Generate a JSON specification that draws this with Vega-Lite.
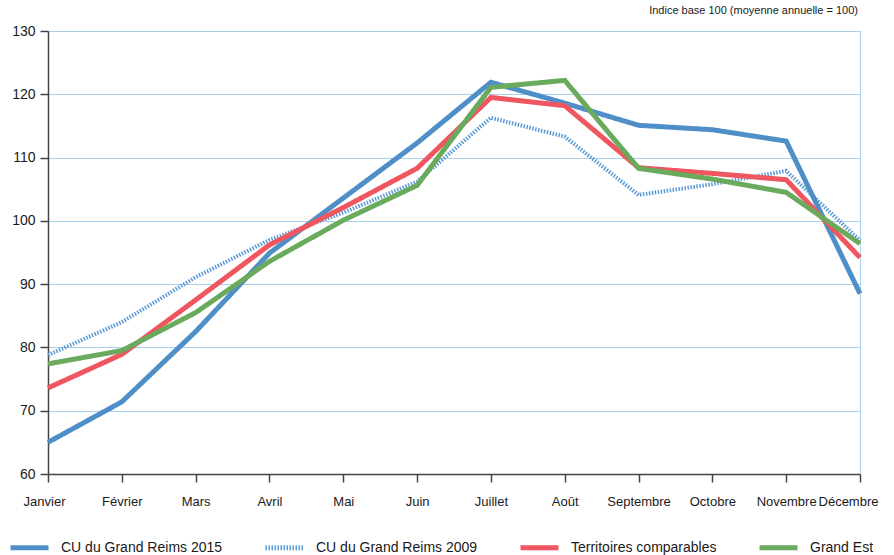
{
  "$schema": "https://vega.github.io/schema/vega-lite/v6.json",
  "autosize": {"type": "none"},
  "width": 812,
  "height": 443,
  "padding": {"left": 48, "top": 31, "right": 34, "bottom": 81},
  "background": "white",
  "title": {
    "text": "Indice base 100 (moyenne annuelle = 100)",
    "anchor": "end",
    "frame": "group",
    "fontSize": 11,
    "fontWeight": "normal",
    "font": "Liberation Sans",
    "color": "#1a1a1a",
    "offset": 8,
    "dx": -2
  },
  "config": {
    "view": {"stroke": "#a8cfec", "strokeWidth": 1},
    "font": "Liberation Sans"
  },
  "datasets": {
    "rows": [
      {"mois": "Janvier", "serie": "CU du Grand Reims 2015", "v": 65.0},
      {"mois": "Février", "serie": "CU du Grand Reims 2015", "v": 71.4},
      {"mois": "Mars", "serie": "CU du Grand Reims 2015", "v": 82.5},
      {"mois": "Avril", "serie": "CU du Grand Reims 2015", "v": 94.9},
      {"mois": "Mai", "serie": "CU du Grand Reims 2015", "v": 103.6},
      {"mois": "Juin", "serie": "CU du Grand Reims 2015", "v": 112.3},
      {"mois": "Juillet", "serie": "CU du Grand Reims 2015", "v": 121.9},
      {"mois": "Août", "serie": "CU du Grand Reims 2015", "v": 118.6},
      {"mois": "Septembre", "serie": "CU du Grand Reims 2015", "v": 115.1},
      {"mois": "Octobre", "serie": "CU du Grand Reims 2015", "v": 114.4},
      {"mois": "Novembre", "serie": "CU du Grand Reims 2015", "v": 112.6},
      {"mois": "Décembre", "serie": "CU du Grand Reims 2015", "v": 88.5},
      {"mois": "Janvier", "serie": "CU du Grand Reims 2009", "v": 78.8},
      {"mois": "Février", "serie": "CU du Grand Reims 2009", "v": 84.0},
      {"mois": "Mars", "serie": "CU du Grand Reims 2009", "v": 91.1},
      {"mois": "Avril", "serie": "CU du Grand Reims 2009", "v": 97.0},
      {"mois": "Mai", "serie": "CU du Grand Reims 2009", "v": 101.3},
      {"mois": "Juin", "serie": "CU du Grand Reims 2009", "v": 106.2},
      {"mois": "Juillet", "serie": "CU du Grand Reims 2009", "v": 116.3},
      {"mois": "Août", "serie": "CU du Grand Reims 2009", "v": 113.3},
      {"mois": "Septembre", "serie": "CU du Grand Reims 2009", "v": 104.1},
      {"mois": "Octobre", "serie": "CU du Grand Reims 2009", "v": 105.8},
      {"mois": "Novembre", "serie": "CU du Grand Reims 2009", "v": 107.9},
      {"mois": "Décembre", "serie": "CU du Grand Reims 2009", "v": 96.9},
      {"mois": "Janvier", "serie": "Territoires comparables", "v": 73.6},
      {"mois": "Février", "serie": "Territoires comparables", "v": 78.9},
      {"mois": "Mars", "serie": "Territoires comparables", "v": 87.5},
      {"mois": "Avril", "serie": "Territoires comparables", "v": 96.2},
      {"mois": "Mai", "serie": "Territoires comparables", "v": 102.1},
      {"mois": "Juin", "serie": "Territoires comparables", "v": 108.3},
      {"mois": "Juillet", "serie": "Territoires comparables", "v": 119.5},
      {"mois": "Août", "serie": "Territoires comparables", "v": 118.2},
      {"mois": "Septembre", "serie": "Territoires comparables", "v": 108.4},
      {"mois": "Octobre", "serie": "Territoires comparables", "v": 107.5},
      {"mois": "Novembre", "serie": "Territoires comparables", "v": 106.5},
      {"mois": "Décembre", "serie": "Territoires comparables", "v": 94.2},
      {"mois": "Janvier", "serie": "Grand Est", "v": 77.4},
      {"mois": "Février", "serie": "Grand Est", "v": 79.5},
      {"mois": "Mars", "serie": "Grand Est", "v": 85.5},
      {"mois": "Avril", "serie": "Grand Est", "v": 93.6},
      {"mois": "Mai", "serie": "Grand Est", "v": 100.1},
      {"mois": "Juin", "serie": "Grand Est", "v": 105.6},
      {"mois": "Juillet", "serie": "Grand Est", "v": 121.1},
      {"mois": "Août", "serie": "Grand Est", "v": 122.2},
      {"mois": "Septembre", "serie": "Grand Est", "v": 108.3},
      {"mois": "Octobre", "serie": "Grand Est", "v": 106.6},
      {"mois": "Novembre", "serie": "Grand Est", "v": 104.5},
      {"mois": "Décembre", "serie": "Grand Est", "v": 96.4}
    ]
  },
  "data": {"name": "rows"},
  "encoding": {
    "x": {
      "field": "mois",
      "type": "ordinal",
      "sort": ["Janvier", "Février", "Mars", "Avril", "Mai", "Juin", "Juillet", "Août", "Septembre", "Octobre", "Novembre", "Décembre"],
      "scale": {"type": "point", "padding": 0},
      "axis": {
        "title": null,
        "labelAngle": 0,
        "labelFontSize": 13,
        "labelColor": "#1a1a1a",
        "labelPadding": 13,
        "labelAlign": "center",
        "labelOffset": {"expr": "datum.label == 'Décembre' ? -12 : (datum.label == 'Janvier' ? -4 : 0)"},
        "tickSize": 8,
        "tickColor": "#444",
        "tickWidth": 1.5,
        "domainColor": "#444",
        "domainWidth": 1.5,
        "grid": false,
        "labelFont": "Liberation Sans"
      }
    },
    "y": {
      "field": "v",
      "type": "quantitative",
      "scale": {"domain": [60, 130], "nice": false, "zero": false},
      "axis": {
        "title": null,
        "values": [60, 70, 80, 90, 100, 110, 120, 130],
        "labelFontSize": 14,
        "labelColor": "#1a1a1a",
        "labelPadding": 5,
        "tickSize": 8,
        "tickColor": "#444",
        "tickWidth": 1.5,
        "domainColor": "#444",
        "domainWidth": 1.5,
        "grid": true,
        "gridColor": "#a8cfec",
        "gridWidth": 1,
        "labelFont": "Liberation Sans"
      }
    },
    "color": {
      "field": "serie",
      "type": "nominal",
      "scale": {
        "domain": ["CU du Grand Reims 2015", "CU du Grand Reims 2009", "Territoires comparables", "Grand Est"],
        "range": ["#4f8fc7", "#5b9bd5", "#f0565f", "#6aaa5c"]
      },
      "legend": {
        "title": null,
        "orient": "none",
        "legendX": -40,
        "legendY": 495,
        "direction": "horizontal",
        "symbolType": "stroke",
        "symbolSize": 1444,
        "symbolStrokeWidth": 5,
        "labelFontSize": 14,
        "labelColor": "#1a1a1a",
        "labelFont": "Liberation Sans",
        "labelOffset": 10,
        "columnPadding": 32,
        "labelLimit": 300
      }
    },
    "strokeDash": {
      "field": "serie",
      "type": "nominal",
      "scale": {
        "domain": ["CU du Grand Reims 2015", "CU du Grand Reims 2009", "Territoires comparables", "Grand Est"],
        "range": [[1, 0], [1.5, 1.5], [1, 0], [1, 0]]
      },
      "legend": null
    }
  },
  "layer": [
    {
      "transform": [{"filter": "datum.serie === 'CU du Grand Reims 2009'"}],
      "mark": {"type": "line", "strokeWidth": 4}
    },
    {
      "transform": [{"filter": "datum.serie === 'CU du Grand Reims 2015'"}],
      "mark": {"type": "line", "strokeWidth": 5}
    },
    {
      "transform": [{"filter": "datum.serie === 'Territoires comparables'"}],
      "mark": {"type": "line", "strokeWidth": 5}
    },
    {
      "transform": [{"filter": "datum.serie === 'Grand Est'"}],
      "mark": {"type": "line", "strokeWidth": 5}
    }
  ]
}
